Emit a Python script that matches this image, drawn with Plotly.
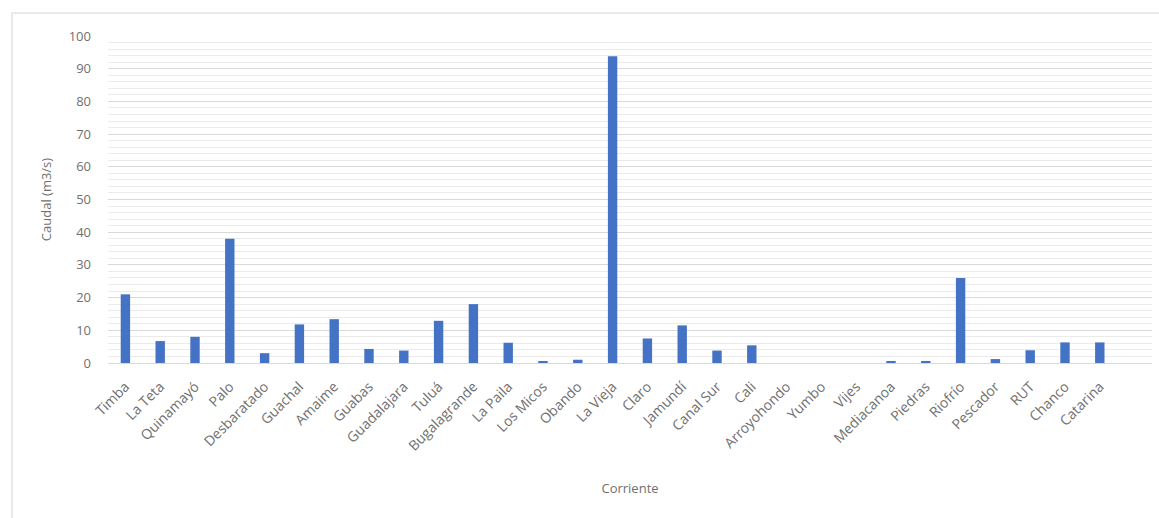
import plotly.graph_objects as go

categories = ["Timba", "La Teta", "Quinamayó", "Palo", "Desbaratado", "Guachal", "Amaime",
              "Guabas", "Guadalajara", "Tuluá", "Bugalagrande", "La Paila", "Los Micos",
              "Obando", "La Vieja", "Claro", "Jamundí", "Canal Sur", "Cali", "Arroyohondo",
              "Yumbo", "Vijes", "Mediacanoa", "Piedras", "Riofrío", "Pescador", "RUT",
              "Chanco", "Catarina"]
caudal = [21.0, 6.7, 8.0, 38.0, 3.0, 11.8, 13.4, 4.3, 3.8, 12.9, 18.0, 6.2, 0.6, 1.0,
          93.8, 7.5, 11.5, 3.8, 5.4, 0, 0, 0, 0.5, 0.5, 26.0, 1.2, 3.9, 6.3, 6.3]
y_ticks = list(range(0, 101, 10))

fig = go.Figure()
fig.add_trace(go.Bar(x=categories, y=caudal, marker=dict(color="#4472C4", line=dict(width=0)),
                     width=0.27))

font_family = "Open Sans, Liberation Sans, sans-serif"
txt = "#707070"
fig.update_layout(
    width=1159, height=518,
    margin=dict(l=108, r=7, t=36, b=155),
    paper_bgcolor="white", plot_bgcolor="white",
    showlegend=False,
    font=dict(family=font_family, size=13, color=txt),
    xaxis=dict(
        type="category", range=[-0.5, 29.5], tickangle=-45,
        tickfont=dict(size=14, color=txt),
        showgrid=False, showline=True, linecolor="#D9D9D9", linewidth=1,
        ticks="", ticklabelstandoff=9,
        title=dict(text="Corriente", font=dict(size=13, color=txt), standoff=30),
    ),
    yaxis=dict(
        range=[0, 100], tickvals=y_ticks, tickfont=dict(size=13, color=txt),
        showgrid=True, gridcolor="#D9D9D9", gridwidth=1, zeroline=False,
        minor=dict(dtick=2, showgrid=True, gridcolor="#EBEBEB", gridwidth=1),
        ticks="", ticklabelstandoff=16,
        title=dict(text="Caudal (m3/s)", font=dict(size=13, color=txt), standoff=14),
    ),
    shapes=[dict(type="rect", xref="paper", yref="paper",
                 x0=-0.092, x1=1.2, y0=-0.6, y1=1.07,
                 line=dict(color="#E3E3E3", width=1.5), layer="below")],
)

fig.write_html("out.html")
